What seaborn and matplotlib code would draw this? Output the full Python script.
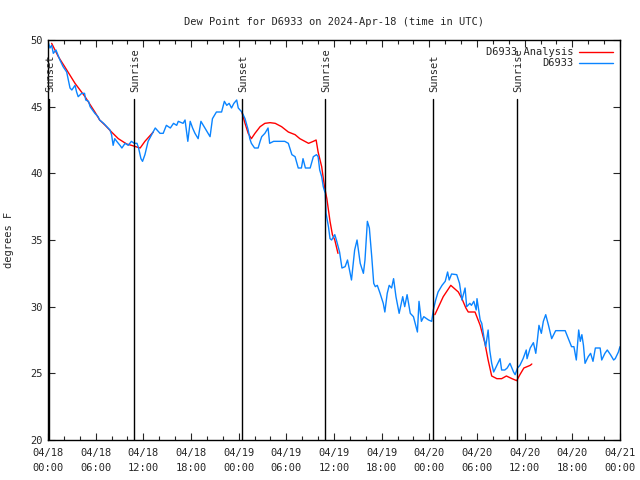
import numpy as np
import pandas as pd
import matplotlib
matplotlib.use("Agg")
import matplotlib.pyplot as plt
import seaborn as sns

# ---- data (hours since 2024-04-18 00:00 UTC) ----
obs_hours = [0.0, 0.25, 0.46, 0.67, 1.0, 1.5, 1.9, 2.35, 2.77, 3.0, 3.4, 3.6, 3.8, 4.24, 4.6, 4.75,
             5.1, 5.3, 5.9, 6.3, 6.5, 7.0, 7.4, 7.8, 8.0, 8.2, 8.4, 8.65, 9.06, 9.3, 9.7, 10.1,
             10.5, 10.85, 11.2, 11.4, 11.7, 11.9, 12.2, 12.6, 13.05, 13.5, 14.1, 14.5, 14.9, 15.4,
             15.8, 16.2, 16.4, 17.0, 17.25, 17.6, 17.9, 18.2, 18.5, 18.9, 19.25, 19.75, 20.4, 20.7,
             21.2, 21.85, 22.2, 22.5, 22.8, 23.1, 23.4, 23.75, 23.95, 24.4, 24.8, 25.2, 25.4, 25.6,
             26.0, 26.45, 26.7, 26.9, 27.3, 27.7, 27.9, 28.4, 29.0, 29.8, 30.25, 30.7, 31.1, 31.5,
             31.9, 32.1, 32.4, 33.0, 33.4, 33.8, 34.0, 34.2, 34.45, 34.65, 34.9, 35.0, 35.3, 35.5,
             35.7, 36.1, 36.3, 36.7, 37.0, 37.4, 37.7, 37.9, 38.2, 38.4, 38.6, 38.9, 39.3, 39.7,
             39.9, 40.2, 40.45, 40.75, 41.0, 41.2, 41.45, 41.8, 42.2, 42.4, 42.7, 42.95, 43.25, 43.5,
             43.8, 44.2, 44.65, 44.9, 45.2, 45.6, 46.0, 46.5, 46.7, 47.0, 47.3, 47.9, 48.3, 48.5,
             48.8, 49.1, 49.6, 50.0, 50.3, 50.5, 50.8, 51.45, 51.8, 52.1, 52.5, 52.7, 53.1, 53.3,
             53.6, 53.9, 54.0, 54.4, 54.6, 54.9, 55.1, 55.4, 55.6, 55.85, 56.1, 56.5, 56.9, 57.1,
             57.5, 57.8, 58.15, 58.6, 58.8, 59.1, 59.4, 59.8, 60.2, 60.3, 60.7, 61.1, 61.4, 61.6,
             61.8, 62.1, 62.35, 62.65, 63.0, 63.4, 63.9, 65.1, 65.5, 65.9, 66.2, 66.5, 66.8, 67.0,
             67.2, 67.4, 67.6, 68.0, 68.3, 68.6, 68.9, 69.5, 69.7, 70.1, 70.4, 70.8, 71.2, 71.4,
             71.8, 72.0]
obs_dewpt = [49.9, 49.4, 49.6, 49.0, 49.25, 48.5, 48.0, 47.6, 46.4, 46.25, 46.6, 46.1, 45.75, 46.0, 46.0, 45.5,
             45.4, 45.0, 44.5, 44.25, 44.0, 43.75, 43.5, 43.25, 42.9, 42.1, 42.6, 42.4, 42.1, 41.9, 42.25, 42.1,
             42.4, 42.25, 42.25, 41.9, 41.1, 40.9, 41.4, 42.4, 42.9, 43.4, 43.0, 43.0, 43.6, 43.4,
             43.75, 43.6, 43.9, 43.75, 44.0, 42.4, 43.9, 43.4, 43.0, 42.6, 43.9, 43.4, 42.75, 44.1,
             44.6, 44.6, 45.4, 45.1, 45.25, 44.9, 45.25, 45.5, 44.9, 44.6, 44.1, 43.25, 42.6, 42.25,
             41.9, 41.9, 42.4, 42.75, 43.0, 43.4, 42.25, 42.4, 42.4, 42.4, 42.25, 41.4, 41.25, 40.4,
             40.4, 41.1, 40.4, 40.4, 41.25, 41.4, 41.25, 40.25, 39.75, 39.0, 38.5, 37.0, 36.0, 35.1,
             35.0, 35.4, 35.0, 34.1, 32.9, 33.0, 33.5, 32.9, 32.0, 33.1, 34.25, 35.0, 33.25, 32.5,
             33.5, 36.4, 35.9, 33.75, 31.75, 31.5, 31.6, 31.0, 30.25, 29.6, 31.0, 31.6, 31.4, 32.1,
             30.75, 29.5, 30.75, 30.0, 30.9, 29.5, 29.25, 28.1, 30.4, 28.9, 29.25, 29.0, 28.9, 29.75,
             30.5, 31.1, 31.6, 31.9, 32.6, 32.0, 32.45, 32.4, 31.75, 30.5, 31.4, 30.0, 30.25, 30.1,
             30.4, 29.75, 30.6, 29.0, 28.75, 27.6, 27.0, 28.25, 26.75, 25.75, 25.1, 25.6, 26.1, 25.25,
             25.25, 25.4, 25.75, 25.1, 24.9, 25.4, 25.6, 26.1, 26.75, 26.1, 26.9, 27.3, 26.5, 27.5,
             28.6, 28.0, 28.9, 29.4, 28.6, 27.6, 28.2, 28.2, 27.6, 27.0, 27.0, 26.0, 28.25, 27.4,
             27.9, 27.1, 25.75, 26.25, 26.5, 25.9, 26.9, 26.9, 26.0, 26.5, 26.75, 26.4, 26.0, 26.1,
             26.6, 27.0]

ana_hours = [0.46, 1.3, 2.1, 3.4, 4.66, 5.9, 6.5, 7.2, 8.0, 8.85, 9.9, 10.5, 11.6, 12.2, 13.25,
             24.4, 24.8, 25.2, 25.6, 26.05, 26.7, 27.3, 27.95, 28.6, 29.4, 30.25, 31.1, 31.7, 32.8,
             33.4, 33.75, 34.0, 34.45, 34.8, 35.1, 35.3, 35.5, 35.8, 36.1, 36.5,
             48.7, 49.75, 50.7, 51.65, 52.1, 52.6, 52.9, 53.75, 54.4, 55.0, 55.4, 55.85, 56.5, 57.1,
             57.7, 58.4, 59.0, 59.4, 59.9, 60.7, 60.9]
ana_dewpt = [49.75, 48.75, 48.0, 46.75, 45.75, 44.6, 44.0, 43.6, 43.1, 42.6, 42.2, 42.1, 41.9, 42.4, 43.1,
             44.6, 43.75, 43.0, 42.6, 43.0, 43.5, 43.75, 43.8, 43.75, 43.5, 43.1, 42.9, 42.6, 42.25,
             42.4, 42.5, 41.6, 40.5, 39.0, 38.1, 37.25, 36.4, 35.4, 35.0, 34.0,
             29.4, 30.75, 31.6, 31.1, 30.6, 29.9, 29.6, 29.6, 28.6, 27.25, 26.0, 24.8, 24.6, 24.6,
             24.8, 24.6, 24.45, 24.9, 25.4, 25.6, 25.7]
ana_segment = [1] * 15 + [2] * 25 + [3] * 21

sun_hours = [0.13, 10.8, 24.4, 34.9, 48.5, 59.0]
sun_labels = ["Sunset", "Sunrise", "Sunset", "Sunrise", "Sunset", "Sunrise"]

tick_hours = [0, 6, 12, 18, 24, 30, 36, 42, 48, 54, 60, 66, 72]
tick_labels = ["04/18\n00:00", "04/18\n06:00", "04/18\n12:00", "04/18\n18:00",
               "04/19\n00:00", "04/19\n06:00", "04/19\n12:00", "04/19\n18:00",
               "04/20\n00:00", "04/20\n06:00", "04/20\n12:00", "04/20\n18:00",
               "04/21\n00:00"]
y_ticks = [20, 25, 30, 35, 40, 45, 50]

# ---- plot ----
sns.set_style("ticks")
FONT = ["DejaVu Sans Mono"]
plt.rcParams["font.family"] = FONT
plt.rcParams["font.size"] = 7

fig = plt.figure(figsize=(6.4, 4.8), dpi=100)
ax = fig.add_axes([48 / 640, 40 / 480, 572 / 640, 400 / 480])

RED = "#ff0000"
BLUE = "#0a84ff"

ana_df = pd.DataFrame({"h": ana_hours, "v": ana_dewpt, "seg": ana_segment})
obs_df = pd.DataFrame({"h": obs_hours, "v": obs_dewpt})

first = True
for seg, sub in ana_df.groupby("seg"):
    sns.lineplot(data=sub, x="h", y="v", ax=ax, color=RED, lw=1, sort=False,
                 label="D6933 Analysis" if first else None, legend=False)
    first = False
sns.lineplot(data=obs_df, x="h", y="v", ax=ax, color=BLUE, lw=1, sort=False,
             label="D6933", legend=False)

for h, lab in zip(sun_hours, sun_labels):
    ax.axvline(h, ymin=0, ymax=0.853, color="black", lw=1)
    ax.text(h + 0.15, 0.87, lab, transform=ax.get_xaxis_transform(), rotation=90,
            ha="center", va="bottom", fontsize=7.5)

ax.set_xlim(0, 72)
ax.set_ylim(20, 50)
ax.set_xticks(tick_hours)
ax.set_xticklabels(tick_labels, linespacing=1.6)
ax.set_xticks(np.arange(0, 73, 2), minor=True)
ax.set_yticks(y_ticks)
ax.tick_params(direction="in", which="both", top=True, right=True, labelsize=7.5)
ax.tick_params(which="major", length=5, width=0.8)
ax.tick_params(which="minor", length=3, width=0.8)
ax.tick_params(axis="x", which="major", pad=6)
for s in ax.spines.values():
    s.set_linewidth(1)
    s.set_color("black")

ax.set_xlabel("")
ax.set_ylabel("degrees F", fontsize=7.5, labelpad=12)
ax.set_title("Dew Point for D6933 on 2024-Apr-18 (time in UTC)", fontsize=7.5, pad=11)

leg = ax.legend(loc="upper right", frameon=False, markerfirst=False, fontsize=7.5,
                handlelength=3.2, borderaxespad=0.3, labelspacing=0.1, handletextpad=0.6)

fig.savefig("out.png", dpi=100)
